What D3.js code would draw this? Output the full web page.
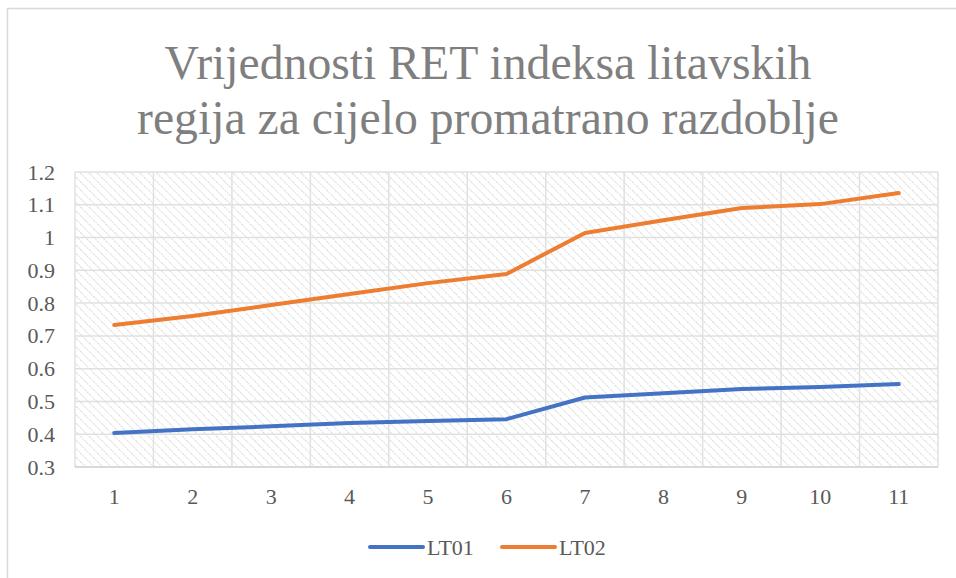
<!DOCTYPE html>
<html><head><meta charset="utf-8">
<script src="https://cdn.jsdelivr.net/npm/d3@7"></script>
<style>body{margin:0;background:#fff;}svg{display:block;}</style>
</head><body>
<script>
const categories = ["1","2","3","4","5","6","7","8","9","10","11"];
const lt01 = [0.404,0.415,0.424,0.434,0.440,0.446,0.512,0.525,0.538,0.544,0.553];
const lt02 = [0.733,0.761,0.794,0.828,0.861,0.889,1.014,1.053,1.090,1.102,1.136];
const yTicks = [0.3,0.4,0.5,0.6,0.7,0.8,0.9,1,1.1,1.2];
const seriesNames = ["LT01","LT02"];
const colors = ["#4472c4","#ed7d31"];
const titleLines = ["Vrijednosti RET indeksa litavskih","regija za cijelo promatrano razdoblje"];

const FF="Liberation Serif";
const W=956,H=578;
const svg=d3.select("body").append("svg").attr("width",W).attr("height",H);
const defs=svg.append("defs");
const pat=defs.append("pattern").attr("id","hatch").attr("patternUnits","userSpaceOnUse")
  .attr("width",6).attr("height",6).attr("patternTransform","rotate(-45)");
pat.append("rect").attr("width",6).attr("height",6).attr("fill","#fff");
pat.append("line").attr("x1",0).attr("y1",0).attr("x2",0).attr("y2",6)
  .attr("stroke","#d9d9d9").attr("stroke-width",2).attr("stroke-dasharray","1.5,1");

svg.append("rect").attr("x",7.5).attr("y",8.5).attr("width",1000).attr("height",1000)
  .attr("fill","#fff").attr("stroke","#d9d9d9").attr("stroke-width",1.5);

const L=75,R=938,T=172,B=467;
const x=d3.scaleBand().domain(categories).range([L,R]);
const y=d3.scaleLinear().domain([0.3,1.2]).range([B,T]);

svg.append("rect").attr("x",L).attr("y",T).attr("width",R-L).attr("height",B-T).attr("fill","url(#hatch)");

const g=svg.append("g");
yTicks.forEach(t=>{
  g.append("line").attr("x1",L).attr("x2",R).attr("y1",y(t)).attr("y2",y(t))
   .attr("stroke","#e0e0e0").attr("stroke-width",1.5);
});
const bounds=categories.map(c=>x(c)).concat([R]);
bounds.forEach(b=>{
  g.append("line").attr("x1",b).attr("x2",b).attr("y1",T).attr("y2",B)
   .attr("stroke","#e0e0e0").attr("stroke-width",1.5);
});
g.append("line").attr("x1",L).attr("x2",R).attr("y1",B).attr("y2",B).attr("stroke","#d9d9d9").attr("stroke-width",2);

const yAxis=d3.axisLeft(y).tickValues(yTicks).tickSize(0).tickPadding(0).tickFormat(d=>String(d));
const ya=svg.append("g").attr("transform",`translate(${L-20},0)`).call(yAxis);
ya.select(".domain").remove();
ya.attr("font-family",FF);
ya.selectAll("text").style("font-family",FF).style("font-size","22px").attr("fill","#595959");

const xAxis=d3.axisBottom(x).tickSize(0).tickPadding(0);
const xa=svg.append("g").attr("transform",`translate(0,${B+21})`).call(xAxis);
xa.select(".domain").remove();
xa.attr("font-family",FF);
xa.selectAll("text").style("font-family",FF).style("font-size","22px").attr("fill","#595959");

const line=d3.line().x((d,i)=>x(categories[i])+x.bandwidth()/2).y(d=>y(d));
[lt01,lt02].forEach((s,i)=>{
  svg.append("path").datum(s).attr("d",line).attr("fill","none")
    .attr("stroke",colors[i]).attr("stroke-width",4).attr("stroke-linejoin","round").attr("stroke-linecap","round");
});

const title=svg.append("text").attr("text-anchor","middle").style("font-family",FF)
  .style("font-size","46px").attr("fill","#7f7f7f");
const t1=title.append("tspan").attr("x",488).attr("y",79).text(titleLines[0]);
title.append("tspan").attr("x",488).attr("y",134).text(titleLines[1]);
const w1=t1.node().getComputedTextLength();
title.style("font-size",(46*647/w1)+"px");

const legX=[370,502];
seriesNames.forEach((n,i)=>{
  svg.append("line").attr("x1",legX[i]).attr("x2",legX[i]+53).attr("y1",547).attr("y2",547)
    .attr("stroke",colors[i]).attr("stroke-width",4).attr("stroke-linecap","round");
  svg.append("text").attr("x",legX[i]+57).attr("y",555).style("font-family",FF)
    .style("font-size","22px").attr("fill","#595959").text(n);
});
</script>
</body></html>
